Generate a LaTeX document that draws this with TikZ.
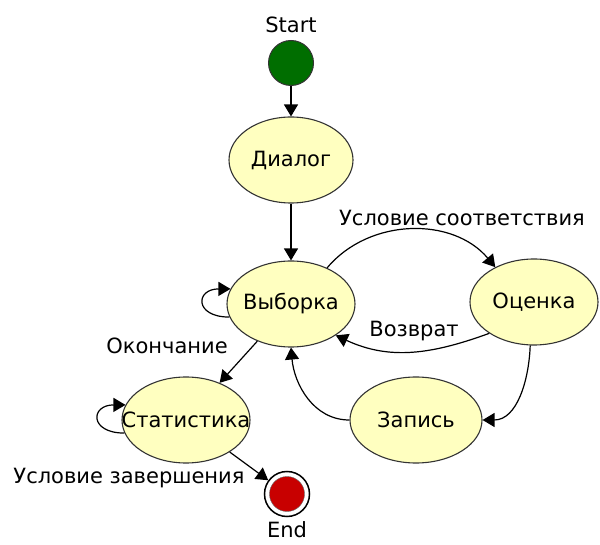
\documentclass[tikz,border=0pt]{standalone}
\usepackage{fontspec}
\setmainfont{DejaVu Sans}
\usetikzlibrary{shapes.geometric,arrows.meta,positioning}
\definecolor{statefill}{RGB}{255,255,192}
\definecolor{startgreen}{RGB}{0,110,0}
\definecolor{endred}{RGB}{200,0,0}
\tikzset{
    state/.style={
        ellipse,draw=black!80,line width=1.1pt,
        fill=statefill,inner sep=0pt,
        minimum width=128pt,minimum height=86pt,
        font=\fontsize{21}{25}\selectfont
    },
    >={Triangle[width=14pt,length=12pt]},
    tag/.style={font=\fontsize{21}{25}\selectfont,inner sep=0pt},
}
\tikzstyle{arrow}     = [line width=1.2pt,->]
\begin{document}
\begin{tikzpicture}[x=1pt,y=1pt]
		\useasboundingbox (0,0) rectangle (600,-545);
		\node[circle,draw=black!80,line width=1pt,fill=startgreen,minimum size=45pt,inner sep=0pt] (start) at (291,-63) {};
		\node[tag] (startlbl) at (291,-25) {Start};
		\foreach \name/\x/\y/\w/\txt in {dialog/291/-160/124/Диалог,vyb/291/-304/128/Выборка,ocen/534/-302/128/Оценка,stat/186/-420/128/Статистика,zap/416/-420/132/Запись}
		\node[state,minimum width=\w pt] (\name) at (\x,\y) {\makebox[0pt]{\txt}};
		\node[circle,draw=black,line width=1.5pt,fill=white,minimum size=45pt,inner sep=0pt] (end) at (287,-494) {};
		\node[circle,draw=black!60,fill=endred,minimum size=35pt,inner sep=0pt] (endcore) at (end) {};
		\node[tag] (endlbl) at (287,-530) {End};

		\draw[arrow] (start) -- (dialog);
		\draw[arrow] (dialog) -- (vyb);
		\draw[arrow] (vyb.45) to[out=50,in=130] (ocen.138);
		\draw[arrow] (ocen.215) to[out=200,in=-25] (vyb.325);
		\draw[arrow] (ocen.265) to[out=-92,in=0] (zap.east);
		\draw[arrow] (zap.west) to[out=180,in=-85] (vyb.south);
		\draw[arrow] (vyb) -- (stat);
		\draw[arrow] (stat) -- (end);
		\draw[arrow] (vyb.192) to[out=180,in=180,looseness=3.2] (vyb.166);
		\draw[arrow] (stat.192) to[out=180,in=180,looseness=3.2] (stat.166);

		\node[tag] (lblmatch) at (462,-218) {Условие соответствия};
		\node[tag] (lblback) at (414,-331) {Возврат};
		\node[tag] (lblstop) at (167,-346) {Окончание};
		\node[tag] (lblfinish) at (129,-478) {Условие завершения};
	\end{tikzpicture}
\end{document}
